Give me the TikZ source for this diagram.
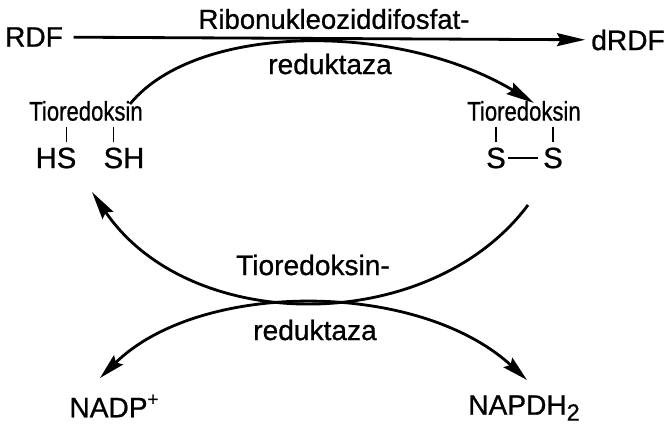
\documentclass[tikz,border=0pt]{standalone}
\usepackage{fontspec}
\setmainfont{Liberation Sans}[FakeBold=0.8]
\usetikzlibrary{arrows.meta, positioning}

\begin{document}
\begin{tikzpicture}[x=0.03cm, y=-0.03cm, line width=2.4pt,
    lbl/.style={inner sep=0pt, font=\fontsize{24}{28}\selectfont},
    tio/.style={inner sep=0pt, font=\fontsize{23}{27}\selectfont},
    atom/.style={inner sep=0pt, font=\fontsize{25}{29}\selectfont},
    bond/.style={line width=1.5pt},
    pfeil/.style={-{Stealth[length=24pt, width=11pt, inset=3pt]}},
    doppel/.style={{Stealth[length=22pt, width=11pt, inset=3pt]}-{Stealth[length=22pt, width=11pt, inset=3pt]}}]
    \useasboundingbox (0,0) rectangle (668,429);

    % Substrates
    \node[lbl] (rdf) at (34,37) {RDF};
    \node[lbl] (drdf) at (628,40) {dRDF};
    \node[lbl, font=\fontsize{23.5}{28}\selectfont] (rnr) at (334,19) {Ribonukleoziddifosfat-};
    \node[lbl] (rnrb) at (330,64) {reduktaza};

    % Thioredoxin, reduced and oxidised
    \node[tio] (tiol) at (86,111) {\scalebox{0.82}[1]{Tioredoksin}};
    \node[tio] (tior) at (524,111) {\scalebox{0.82}[1]{Tioredoksin}};
    \node[atom] (hs) at (56,158) {HS};
    \node[atom] (sh) at (124,158) {SH};
    \node[atom] (sa) at (496,158) {S};
    \node[atom] (sb) at (553,158) {S};
    \draw[bond] ([xshift=9pt, yshift=4pt]hs.north) -- ([xshift=9pt, yshift=-4pt]hs.north |- tiol.south);
    \draw[bond] ([xshift=-9pt, yshift=4pt]sh.north) -- ([xshift=-9pt, yshift=-4pt]sh.north |- tiol.south);
    \draw[bond] ([yshift=4pt]sa.north) -- ([yshift=-4pt]sa.north |- tior.south);
    \draw[bond] ([yshift=4pt]sb.north) -- ([yshift=-4pt]sb.north |- tior.south);
    \draw[bond, shorten <=1pt, shorten >=3pt] (sa) -- (sb);

    % Reductase
    \node[lbl] (trr) at (313,265) {Tioredoksin-};
    \node[lbl] (trrb) at (315,330) {reduktaza};
    \node[lbl] (nadp) at (114,406) {NADP\raisebox{10pt}{\fontsize{16}{18}\selectfont +}};
    \node[lbl] (napdh) at (524,408) {NAPDH\raisebox{-5pt}{\fontsize{20}{22}\selectfont 2}};

    % Flow
    \coordinate (tl) at (130,104);
    \coordinate (tr) at (534,103);
    \coordinate (ml) at (92,192);
    \coordinate (mr) at (528,205);
    \coordinate (bl) at (100,378);
    \coordinate (br) at (527,380);
    \draw[pfeil, shorten <=8pt, shorten >=4pt] (rdf) -- (drdf);
    \draw[pfeil] (tl) .. controls (197,22) and (400,22) .. (tr);
    \draw[pfeil] (mr) .. controls (430,336) and (190,336) .. (ml);
    \draw[doppel] (bl) .. controls (200,280) and (418,280) .. (br);
\end{tikzpicture}
\end{document}
